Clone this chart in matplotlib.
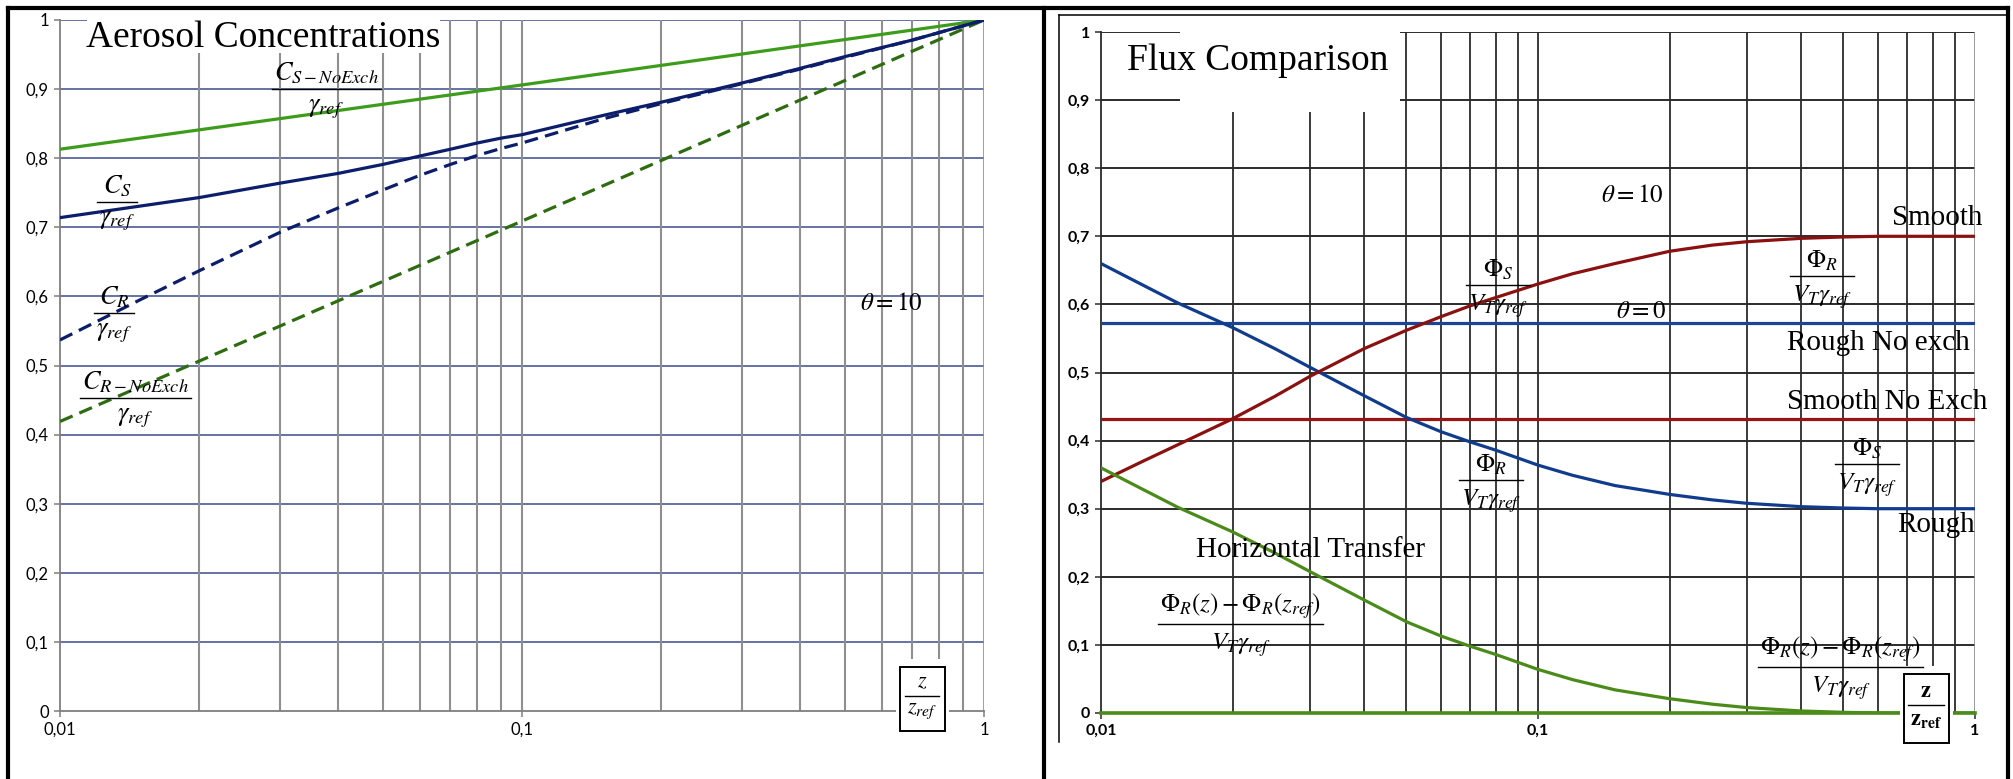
import numpy as np
import matplotlib
matplotlib.use("Agg")
import matplotlib.pyplot as plt
from matplotlib.lines import Line2D
from matplotlib.patches import Rectangle
from matplotlib.ticker import FixedLocator, NullLocator

plt.rcParams["mathtext.fontset"] = "stix"
plt.rcParams["font.family"] = ["Liberation Serif", "DejaVu Serif"]

W, H = 2013, 779

# ---- left panel: aerosol concentrations ----
z_lin = [0.01, 0.1, 1.0]
c_s_noexch = [0.813, 0.906, 1.0]
c_r_noexch = [0.419, 0.709, 1.0]

z_cs = [0.01, 0.02, 0.03, 0.04, 0.05, 0.06, 0.07, 0.08, 0.09, 0.1,
        0.15, 0.2, 0.3, 0.4, 0.5, 0.7, 1.0]
c_s = [0.714, 0.743, 0.764, 0.778, 0.791, 0.803, 0.813, 0.822, 0.829, 0.834,
       0.862, 0.881, 0.909, 0.930, 0.947, 0.971, 1.0]

z_cr = [0.01, 0.015, 0.02, 0.03, 0.04, 0.05, 0.06, 0.07, 0.08, 0.09, 0.1,
        0.15, 0.2, 0.3, 0.4, 0.5, 0.7, 1.0]
c_r = [0.537, 0.596, 0.637, 0.693, 0.728, 0.754, 0.775, 0.791, 0.804, 0.814, 0.822,
       0.857, 0.879, 0.908, 0.929, 0.946, 0.971, 1.0]

# ---- right panel: flux comparison ----
z_flux = [0.01, 0.0125, 0.015, 0.02, 0.025, 0.03, 0.04, 0.05, 0.06, 0.07, 0.08,
          0.1, 0.12, 0.15, 0.2, 0.25, 0.3, 0.4, 0.5, 0.6, 0.8, 1.0]
phi_rough = [0.660, 0.628, 0.602, 0.566, 0.535, 0.508, 0.466, 0.434, 0.413, 0.398, 0.386,
             0.364, 0.349, 0.334, 0.321, 0.313, 0.308, 0.303, 0.301, 0.300, 0.300, 0.300]
phi_smooth = [0.340, 0.370, 0.394, 0.432, 0.465, 0.494, 0.535, 0.562, 0.582, 0.598, 0.610,
              0.630, 0.645, 0.660, 0.678, 0.687, 0.692, 0.697, 0.699, 0.700, 0.700, 0.700]
horiz_transfer = [0.360, 0.328, 0.302, 0.266, 0.235, 0.208, 0.166, 0.134, 0.113, 0.098, 0.086,
                  0.064, 0.049, 0.034, 0.021, 0.013, 0.008, 0.003, 0.001, 0.0, 0.0, 0.0]
rough_noexch = 0.572
smooth_noexch = 0.431
zero_level = 0.0

x_major = [0.01, 0.1, 1.0]
x_minor = [0.02, 0.03, 0.04, 0.05, 0.06, 0.07, 0.08, 0.09,
           0.2, 0.3, 0.4, 0.5, 0.6, 0.7, 0.8, 0.9]
y_ticks = [0.0, 0.1, 0.2, 0.3, 0.4, 0.5, 0.6, 0.7, 0.8, 0.9, 1.0]
x_labels = ["0,01", "0,1", "1"]
y_labels = ["0", "0,1", "0,2", "0,3", "0,4", "0,5", "0,6", "0,7", "0,8", "0,9", "1"]


def fig_rect(x0, y0, x1, y1):
    """pixel box (from top-left) -> figure fraction rect"""
    return [x0 / W, 1 - y1 / H, (x1 - x0) / W, (y1 - y0) / H]


def setup_axes(ax, hcol, vcol, spine_col, lw_h, lw_v, bold, lsize, edge_col):
    ax.set_xscale("log")
    ax.set_xlim(0.01, 1.0)
    ax.set_ylim(0, 1.0)
    for y in y_ticks[1:]:
        ax.axhline(y, color=hcol, lw=lw_h, zorder=1)
    for x in x_minor + x_major[1:2]:
        ax.axvline(x, color=vcol, lw=lw_v, zorder=1)
    ax.axvline(x_major[-1], color=edge_col, lw=1.2, zorder=1)
    ax.xaxis.set_major_locator(FixedLocator(x_major))
    ax.xaxis.set_minor_locator(NullLocator())
    ax.set_xticklabels(x_labels)
    ax.set_yticks(y_ticks)
    ax.set_yticklabels(y_labels)
    for s in ["top", "right"]:
        ax.spines[s].set_visible(False)
    for s in ["left", "bottom"]:
        ax.spines[s].set_color(spine_col)
        ax.spines[s].set_linewidth(1.3)
    ax.tick_params(length=4, width=1.1, color=spine_col, pad=4,
                   labelsize=lsize, labelfontfamily="Lato")
    for lab in ax.get_xticklabels() + ax.get_yticklabels():
        lab.set_fontweight("bold" if bold else "normal")
    ax.patch.set_alpha(0)


fracs = []


def frac(ax, x, y, num, den, size, up=2.0, dn=5.0):
    """stacked fraction with its bar at data point (x, y); bar added after layout"""
    kw = dict(ha="center", fontsize=size, zorder=6, annotation_clip=False,
              textcoords="offset points")
    t1 = ax.annotate(num, (x, y), xytext=(0, up), va="bottom", **kw)
    t2 = ax.annotate(den, (x, y), xytext=(0, -dn), va="top", **kw)
    fracs.append((ax, x, y, t1, t2))


boxes = []


def zbox(ax, x, y, num, den, box_px):
    frac(ax, x, y, num, den, 16, up=2.5, dn=4.0)
    boxes.append((ax, x, y, box_px))


fig = plt.figure(figsize=(W / 100, H / 100), dpi=100)

# ---------------- left panel ----------------
ax1 = fig.add_axes(fig_rect(60, 20, 984, 711))
setup_axes(ax1, "#4a5a94", "#8f8f8f", "#7f7f7f", 1.2, 1.5, False, 12, "#8f8f8f")
navy = "#0c1d6b"
ax1.plot(z_lin, c_s_noexch, color="#3e9c1c", lw=2.3, zorder=3)
ax1.plot(z_lin, c_r_noexch, color="#2e6c10", lw=2.3, ls=(0, (4.3, 2.3)), zorder=3)
ax1.plot(z_cs, c_s, color=navy, lw=2.3, zorder=3)
ax1.plot(z_cr, c_r, color=navy, lw=2.3, ls=(0, (4.3, 2.3)), zorder=3)

frac(ax1, 0.0377, 0.900, r"$C_{S-NoExch}$", r"$\gamma_{ref}$", 19, dn=6)
frac(ax1, 0.0133, 0.737, r"$C_S$", r"$\gamma_{ref}$", 19, dn=6)
frac(ax1, 0.0131, 0.576, r"$C_R$", r"$\gamma_{ref}$", 19, dn=6)
frac(ax1, 0.01455, 0.453, r"$C_{R-NoExch}$", r"$\gamma_{ref}$", 19, dn=6)
ax1.text(0.63, 0.589, r"$\theta = 10$", ha="center", va="center", fontsize=18, zorder=4)
zbox(ax1, 0.735, 0.0217, r"$z$", r"$z_{ref}$", (45, 29, 35))

# ---------------- right panel ----------------
ax2 = fig.add_axes(fig_rect(1101, 32, 1975, 713))
setup_axes(ax2, "#2b2b2b", "#2b2b2b", "#2b2b2b", 1.4, 1.3, True, 11.5, "#8a8a8a")
ax2.axhline(rough_noexch, color="#1a4596", lw=2.3, zorder=3)
ax2.axhline(smooth_noexch, color="#9a1414", lw=2.3, zorder=3)
ax2.axhline(zero_level, color="#4b8b1a", lw=2.6, zorder=3, clip_on=False)
ax2.plot(z_flux, phi_rough, color="#113c8e", lw=2.3, zorder=3)
ax2.plot(z_flux, phi_smooth, color="#8b1010", lw=2.3, zorder=3)
ax2.plot(z_flux, horiz_transfer, color="#4b8b1a", lw=2.3, zorder=3)

phi_s = r"$\Phi_S$"
phi_r = r"$\Phi_R$"
vt = r"$V_T\gamma_{ref}$"
big = r"$\Phi_R\left(z\right)-\Phi_R\left(z_{ref}\right)$"
frac(ax2, 0.0809, 0.6285, phi_s, vt, 18)
frac(ax2, 0.447, 0.6417, phi_r, vt, 18)
frac(ax2, 0.0781, 0.342, phi_r, vt, 18)
frac(ax2, 0.566, 0.3656, phi_s, vt, 18)
frac(ax2, 0.0209, 0.131, big, vt, 18)
frac(ax2, 0.493, 0.0675, big, vt, 18)

words = dict(fontsize=21, zorder=4)
ax2.text(0.164, 0.759, r"$\theta = 10$", ha="center", va="center", fontsize=18, zorder=4)
ax2.text(0.172, 0.589, r"$\theta = 0$", ha="center", va="center", fontsize=18, zorder=4)
ax2.text(1.04, 0.727, "Smooth", ha="right", va="center", clip_on=False, **words)
ax2.text(0.372, 0.543, "Rough No exch", ha="left", va="center", **words)
ax2.text(0.372, 0.457, "Smooth No Exch", ha="left", va="center", **words)
ax2.text(0.664, 0.276, "Rough", ha="left", va="center", **words)
ax2.text(0.0301, 0.239, "Horizontal Transfer", ha="center", va="center", **words)
zbox(ax2, 0.773, 0.0117, r"$\mathbf{z}$", r"$\mathbf{z}_{\mathbf{ref}}$", (45, 31, 38))

# ---------------- titles and the surrounding frame ----------------
for r in [fig_rect(87, 10, 440, 53), fig_rect(1180, 20, 1400, 112)]:
    fig.patches.append(Rectangle((r[0], r[1]), r[2], r[3], transform=fig.transFigure,
                                 fc="white", ec="none", zorder=1))
fig.text(86 / W, 1 - 47 / H, "Aerosol Concentrations", fontsize=27, va="baseline", zorder=2)
fig.text(1127 / W, 1 - 70 / H, "Flux Comparison", fontsize=27, va="baseline", zorder=2)


def fline(xs, ys, lw):
    fig.add_artist(Line2D([x / W for x in xs], [1 - y / H for y in ys],
                          transform=fig.transFigure, color="black", lw=lw, zorder=3))


fline([8, 2008], [8, 8], 3.0)
fline([8, 8], [8, 779], 3.0)
fline([1044, 1044], [8, 779], 3.0)
fline([2008, 2008], [8, 779], 3.0)
fline([1059, 1059], [15, 742], 1.1)
fline([1059, 2008], [15, 15], 1.1)

# fraction bars and the z/z_ref boxes need the text extents
fig.canvas.draw()
renderer = fig.canvas.get_renderer()
for ax, x, y, t1, t2 in fracs:
    b1 = t1.get_window_extent(renderer)
    b2 = t2.get_window_extent(renderer)
    half = max(b1.width, b2.width) / 2 + 2
    cx, cy = ax.transData.transform((x, y))
    inv = ax.transAxes.inverted()
    (x0, y0), (x1, y1) = inv.transform([(cx - half, cy), (cx + half, cy)])
    ax.add_line(Line2D([x0, x1], [y0, y1], transform=ax.transAxes, color="black",
                       lw=1.0, zorder=6, clip_on=False))

for ax, x, y, (bw, above, below) in boxes:
    cx, cy = ax.transData.transform((x, y))
    inv = ax.transAxes.inverted()
    for pad_x, pad_top, pad_bot, ec, z in [(4, 8, 4, "none", 4.8), (0, 0, 0, "black", 5)]:
        (x0, y0), (x1, y1) = inv.transform([(cx - bw / 2 - pad_x, cy - below - pad_bot),
                                           (cx + bw / 2 + pad_x, cy + above + pad_top)])
        ax.add_patch(Rectangle((x0, y0), x1 - x0, y1 - y0, transform=ax.transAxes,
                               fc="white", ec=ec, lw=1.4, zorder=z, clip_on=False))

fig.savefig("out.png", dpi=100)
